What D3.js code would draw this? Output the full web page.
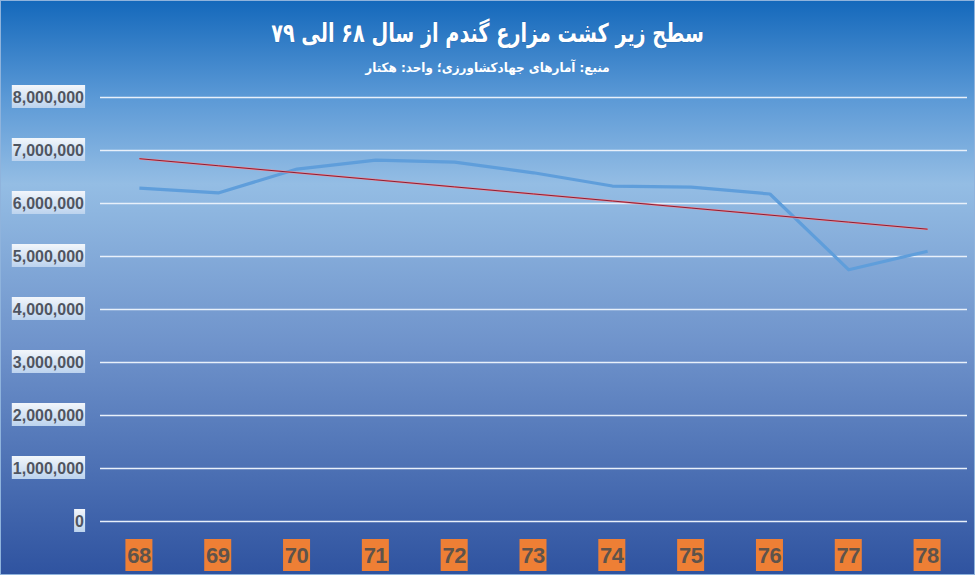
<!DOCTYPE html>
<html>
<head>
<meta charset="utf-8">
<script src="https://cdn.jsdelivr.net/npm/d3@7"></script>
<style>
   body { margin: 0; background: #fff; }
   svg { display: block; }
</style>
</head>
<body>
<div id="chart"></div>
<script>
// Years (Persian calendar, short form)
const years = ["68", "69", "70", "71", "72", "73", "74", "75", "76", "77", "78"];
// Wheat cultivated area, hectares
const area = [6280000, 6190000, 6640000, 6810000, 6770000, 6570000, 6320000, 6300000, 6170000, 4740000, 5090000];
const yTicks = [0, 1000000, 2000000, 3000000, 4000000, 5000000, 6000000, 7000000, 8000000];

const titleText = "سطح زیر کشت مزارع گندم از سال ۶۸ الی ۷۹";
const subtitleText = "منبع: آمارهای جهادکشاورزی؛ واحد:  هکتار";

const width = 975, height = 575;
const margin = { top: 97, right: 8, bottom: 54, left: 100 };

const svg = d3.select("#chart").append("svg")
   .attr("width", width)
   .attr("height", height);

const defs = svg.append("defs");

// background gradient
const bg = defs.append("linearGradient")
   .attr("id", "bg").attr("x1", 0).attr("y1", 0).attr("x2", 0).attr("y2", 1);
bg.append("stop").attr("offset", "0%").attr("stop-color", "#1468bb");
bg.append("stop").attr("offset", "17%").attr("stop-color", "#5b99d6");
bg.append("stop").attr("offset", "32%").attr("stop-color", "#94bde4");
bg.append("stop").attr("offset", "60%").attr("stop-color", "#6f93cb");
bg.append("stop").attr("offset", "100%").attr("stop-color", "#2f53a0");

// label box gradient
const lg = defs.append("linearGradient")
   .attr("id", "lbl").attr("x1", 0).attr("y1", 0).attr("x2", 0).attr("y2", 1);
lg.append("stop").attr("offset", "0%").attr("stop-color", "#f2f6fb");
lg.append("stop").attr("offset", "100%").attr("stop-color", "#bcd3ee");

svg.append("rect")
   .attr("width", width).attr("height", height)
   .attr("fill", "url(#bg)");

svg.append("rect")
   .attr("x", 0.5).attr("y", 0.5)
   .attr("width", width - 1).attr("height", height - 1)
   .attr("fill", "none")
   .attr("stroke", "#8fb3dc")
   .attr("stroke-width", 1);

// scales
const x = d3.scaleBand()
   .domain(years)
   .range([margin.left, width - margin.right]);

const y = d3.scaleLinear()
   .domain([0, 8000000])
   .range([height - margin.bottom, margin.top]);

// gridlines
svg.append("g")
   .selectAll("line")
   .data(yTicks)
   .join("line")
   .attr("x1", margin.left)
   .attr("x2", width - margin.right)
   .attr("y1", d => Math.round(y(d)) + 0.5)
   .attr("y2", d => Math.round(y(d)) + 0.5)
   .attr("stroke", "#e8f0fa")
   .attr("stroke-width", 1.3);

// y labels with light boxes
const fmt = d3.format(",");
const yLab = svg.append("g")
   .selectAll("g")
   .data(yTicks)
   .join("g")
   .attr("transform", d => `translate(84, ${y(d)})`);

yLab.append("text")
   .attr("text-anchor", "end")
   .attr("dy", "0.36em")
   .attr("font-family", "Liberation Sans")
   .attr("font-weight", "bold")
   .attr("font-size", 16)
   .attr("fill", "#4f5561")
   .text(d => fmt(d));

yLab.each(function () {
   const g = d3.select(this);
   const bb = g.select("text").node().getBBox();
   g.insert("rect", "text")
      .attr("x", bb.x - 1)
      .attr("y", -12)
      .attr("width", bb.width + 2)
      .attr("height", 23)
      .attr("fill", "url(#lbl)");
});

// x labels with orange boxes
const xLab = svg.append("g")
   .selectAll("g")
   .data(years)
   .join("g")
   .attr("transform", d => `translate(${x(d) + x.bandwidth() / 2}, 555)`);

xLab.append("rect")
   .attr("x", -14)
   .attr("y", -16)
   .attr("width", 27)
   .attr("height", 32)
   .attr("fill", "#ee7f35");

xLab.append("text")
   .attr("text-anchor", "middle")
   .attr("x", -0.5)
   .attr("dy", "0.36em")
   .attr("font-family", "Liberation Sans")
   .attr("font-weight", "bold")
   .attr("font-size", 22)
   .attr("letter-spacing", -0.5)
   .attr("fill", "#5e534b")
   .text(d => d);

// data line
const cx = d => x(d) + x.bandwidth() / 2;
const line = d3.line()
   .x((d, i) => cx(years[i]))
   .y(d => y(d));

svg.append("path")
   .datum(area)
   .attr("fill", "none")
   .attr("stroke", "#5f9edb")
   .attr("stroke-width", 3.2)
   .attr("stroke-linejoin", "round")
   .attr("d", line);

// linear trend line (least squares)
const n = area.length;
const idx = d3.range(n);
const mx = d3.mean(idx), my = d3.mean(area);
const slope = d3.sum(idx, i => (i - mx) * (area[i] - my)) / d3.sum(idx, i => (i - mx) ** 2);
const icpt = my - slope * mx;
const trend = idx.map(i => icpt + slope * i);

svg.append("path")
   .datum(trend)
   .attr("fill", "none")
   .attr("stroke", "#f08a96")
   .attr("stroke-width", 2)
   .attr("d", line);

svg.append("path")
   .datum(trend)
   .attr("fill", "none")
   .attr("stroke", "#8a1f35")
   .attr("stroke-width", 1)
   .attr("d", line);

// titles (squeezed horizontally to match the narrow Persian face)
const tg = svg.append("g")
   .attr("transform", `translate(${width / 2}, 42) scale(0.74, 1)`);
tg.append("text")
   .attr("text-anchor", "middle")
   .attr("direction", "rtl")
   .attr("font-family", "DejaVu Sans")
   .attr("font-weight", "bold")
   .attr("font-size", 26)
   .attr("fill", "#ffffff")
   .style("paint-order", "stroke")
   .attr("stroke", "rgba(0,40,100,0.25)")
   .attr("stroke-width", 1)
   .text(titleText);

const sg = svg.append("g")
   .attr("transform", `translate(${width / 2}, 72) scale(0.92, 1)`);
sg.append("text")
   .attr("text-anchor", "middle")
   .attr("direction", "rtl")
   .attr("font-family", "DejaVu Sans")
   .attr("font-weight", "bold")
   .attr("font-size", 13)
   .attr("fill", "#ffffff")
   .text(subtitleText);
</script>
</body>
</html>
